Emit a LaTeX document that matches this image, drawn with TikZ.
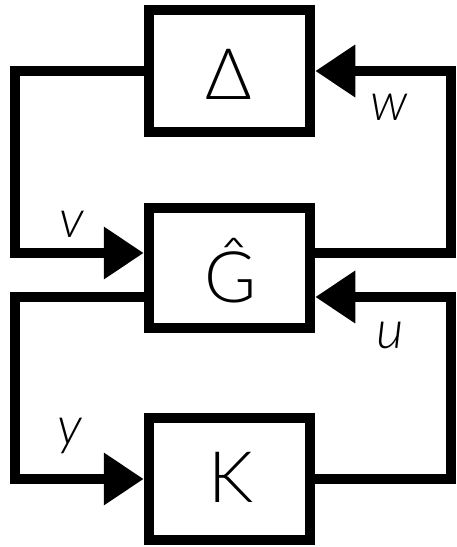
\documentclass[tikz,border=0pt]{standalone}
\usepackage{fontspec}
\IfFontExistsTF{Lato Light}{\setmainfont{Lato Light}[ItalicFont={Lato Light Italic}]}{\setmainfont{Lato}}
\usetikzlibrary{arrows.meta,calc}
\begin{document}
\begin{tikzpicture}[x=1pt,y=-1pt,
  blockbox/.style={draw=black,line width=10.5pt,fill=white,minimum width=161pt,
    minimum height=122pt,inner sep=0pt},
  blocktext/.style={anchor=base,inner sep=0pt,font=\fontsize{71}{71}\selectfont},
  wire/.style={line width=10.5pt,line join=miter},
  feed/.style={wire,-{Triangle[length=40pt,width=50pt]}},
  siglabel/.style={anchor=base,inner sep=0pt,font=\fontsize{53}{53}\selectfont\itshape}]
  \useasboundingbox (0,0) rectangle (456,547);

  % plant, uncertainty and controller blocks
  \node[blockbox] (D) at (229.5,71) {};
  \node[blockbox,minimum height=120pt] (G) at (229.5,268) {};
  \node[blockbox] (K) at (229.5,479) {};
  \node[blocktext] (Dt) at (229,99) {Δ};
  \node[blocktext] (Gt) at (231,302) {Ĝ};
  \node[blocktext] (Kt) at (231,502) {K};

  % junction points of the loops
  \coordinate (gvin) at ($(G.west)+(0,-15)$);
  \coordinate (gyout) at ($(G.west)+(0,29)$);
  \coordinate (gwout) at ($(G.east)+(0,-15)$);
  \coordinate (guin) at ($(G.east)+(0,29)$);

  % upper loop: Delta <-> G
  \draw[feed] (D.west) -- (15,71) |- (gvin);
  \draw[feed] (gwout) -- (451,253) |- (D.east);
  % lower loop: G <-> K
  \draw[feed] (gyout) -- (15,297) |- (K.west);
  \draw[feed] (K.east) -- (451,479) |- (guin);

  % signal labels
  \node[siglabel] (v) at (72,237) {v};
  \node[siglabel] (w) at (389,120) {w};
  \node[siglabel] (u) at (390,348) {u};
  \node[siglabel] (y) at (70,444) {y};
\end{tikzpicture}
\end{document}
